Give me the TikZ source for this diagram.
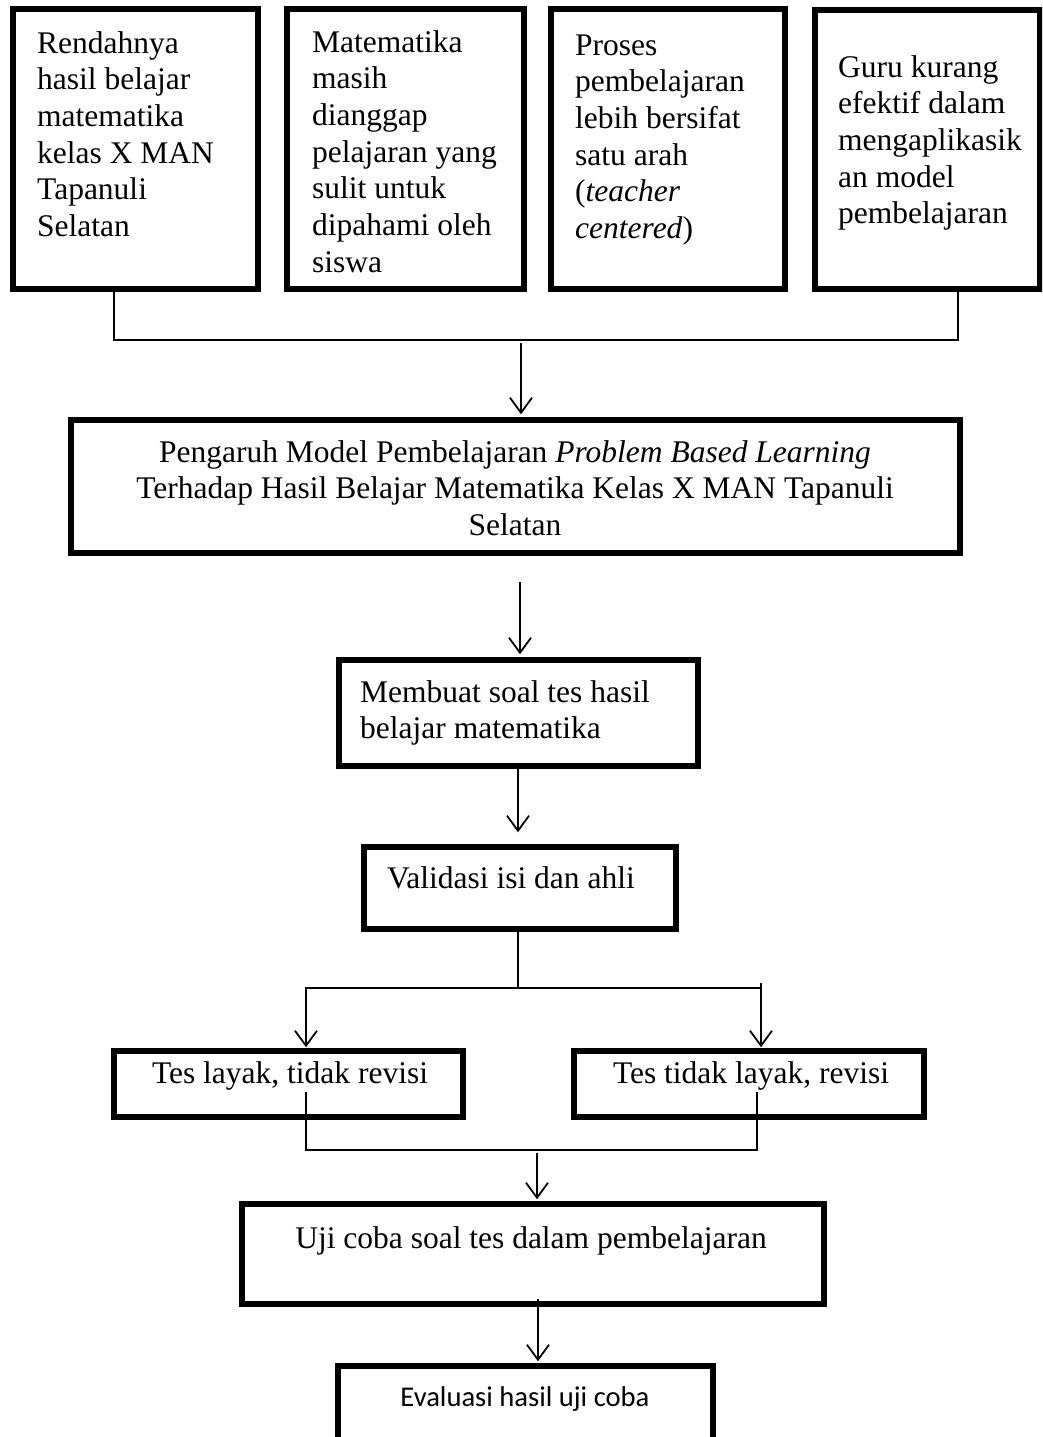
\documentclass[tikz,border=0pt]{standalone}
\usepackage{fontspec}
\setmainfont{Liberation Serif}
\newfontfamily\calibfont{Carlito}
\usetikzlibrary{arrows.meta}
\tikzset{
  box/.style={draw, line width=5.5pt, inner sep=0pt, rectangle},
  txt/.style={inner sep=0pt, font=\fontsize{31.5}{36.7}\selectfont, align=left, anchor=north west},
  ltxt/.style={inner sep=0pt, font=\fontsize{31.5}{36.7}\selectfont, anchor=base},
  conn/.style={line width=1.8pt},
  arr/.style={conn, -{Straight Barb[length=15pt,width=22pt,line width=1.8pt]}},
}
\begin{document}
\begin{tikzpicture}[x=1pt,y=-1pt]
\clip (0,0) rectangle (1042,1437);
\fill[white] (0,0) rectangle (1042,1437);

% top boxes
\node[box, minimum width=245pt, minimum height=280pt] (b1) at (135.5,149) {};
\node[box, minimum width=237pt, minimum height=280pt] (b2) at (405.5,149) {};
\node[box, minimum width=234pt, minimum height=280pt] (b3) at (668,149) {};
\node[box, minimum width=225pt, minimum height=279pt] (b4) at (927.5,149.5) {};

\node[txt] (t1) at (37,27.3) {\strut Rendahnya\\hasil belajar\\matematika\\kelas X MAN\\Tapanuli\\Selatan};
\node[txt] (t2) at (312,26.3) {\strut Matematika\\masih\\dianggap\\pelajaran yang\\sulit untuk\\dipahami oleh\\siswa};
\node[txt] (t3) at (575,29.3) {\strut Proses\\pembelajaran\\lebih bersifat\\satu arah\\(\textit{teacher}\\\textit{centered})};
\node[txt] (t4) at (838,51.3) {\strut Guru kurang\\efektif dalam\\mengaplikasik\\an model\\pembelajaran};

% main box
\node[box, minimum width=889pt, minimum height=133pt] (main) at (515.5,486.5) {};
\node[txt, align=center, anchor=north] (tmain) at (515,436.3) {\strut Pengaruh Model Pembelajaran \textit{Problem Based Learning}\\Terhadap Hasil Belajar Matematika Kelas X MAN Tapanuli\\Selatan};

% second level
\node[box, minimum width=359pt, minimum height=106pt] (memb) at (518.5,713) {};
\node[txt] (tmemb) at (360,676.3) {\strut Membuat soal tes hasil\\belajar matematika};

\node[box, minimum width=312pt, minimum height=82pt] (valid) at (520,888) {};
\node[ltxt, anchor=base west] (tvalid) at (387,888) {Validasi isi dan ahli};

\node[box, minimum width=349pt, minimum height=66pt] (layak) at (288.5,1084) {};
\node[ltxt] (tlayak) at (290,1083) {Tes layak, tidak revisi};

\node[box, minimum width=350pt, minimum height=66pt] (tidak) at (749,1084) {};
\node[ltxt] (ttidak) at (751,1083) {Tes tidak layak, revisi};

\node[box, minimum width=582pt, minimum height=100pt] (uji) at (533,1254) {};
\node[ltxt] (tuji) at (531,1248) {Uji coba soal tes dalam pembelajaran};

\node[box, minimum width=375pt, minimum height=94pt] (eval) at (525.5,1413) {};
\node[inner sep=0pt, anchor=base, font=\calibfont\fontsize{28.6}{34}\selectfont] (teval) at (525,1406) {Evaluasi hasil uji coba};

% connectors: top merge
\coordinate (j1) at (114,340);
\coordinate (j4) at (958,340);
\draw[conn] (b1.south -| j1) -- (j1) -- (j4) -- (b4.south -| j4);
\coordinate (a1) at (521,343);
\draw[arr, shorten >=3pt] (a1) -- (main.north -| a1);

% main -> membuat
\coordinate (a2) at (520,582);
\draw[arr, shorten >=3pt] (a2) -- (memb.north -| a2);

% membuat -> validasi
\coordinate (a3) at (518,770);
\draw[arr, shorten >=12pt] (memb.south -| a3) -- (valid.north -| a3);

% validasi -> branches
\coordinate (v1) at (518,988);
\coordinate (bl) at (306,988);
\coordinate (br) at (761,988);
\coordinate (brt) at (761,983);
\draw[conn] (valid.south -| v1) -- (v1);
\draw[arr, shorten >=1pt] (br) -- (bl) -- (layak.north -| bl);
\draw[arr, shorten >=1pt] (brt) -- (tidak.north -| brt);

% merge of the two tests
\coordinate (m1) at (306,1092);
\coordinate (m2) at (757,1092);
\draw[conn] (m1) -- (m1 |- 0,1150) -- (m2 |- 0,1150) -- (m2);
\coordinate (a4) at (537,1153);
\draw[arr, shorten >=2pt] (a4) -- (uji.north -| a4);

% uji -> evaluasi
\coordinate (a5) at (538,1299);
\draw[arr, shorten >=2pt] (a5) -- (eval.north -| a5);
\end{tikzpicture}
\end{document}
